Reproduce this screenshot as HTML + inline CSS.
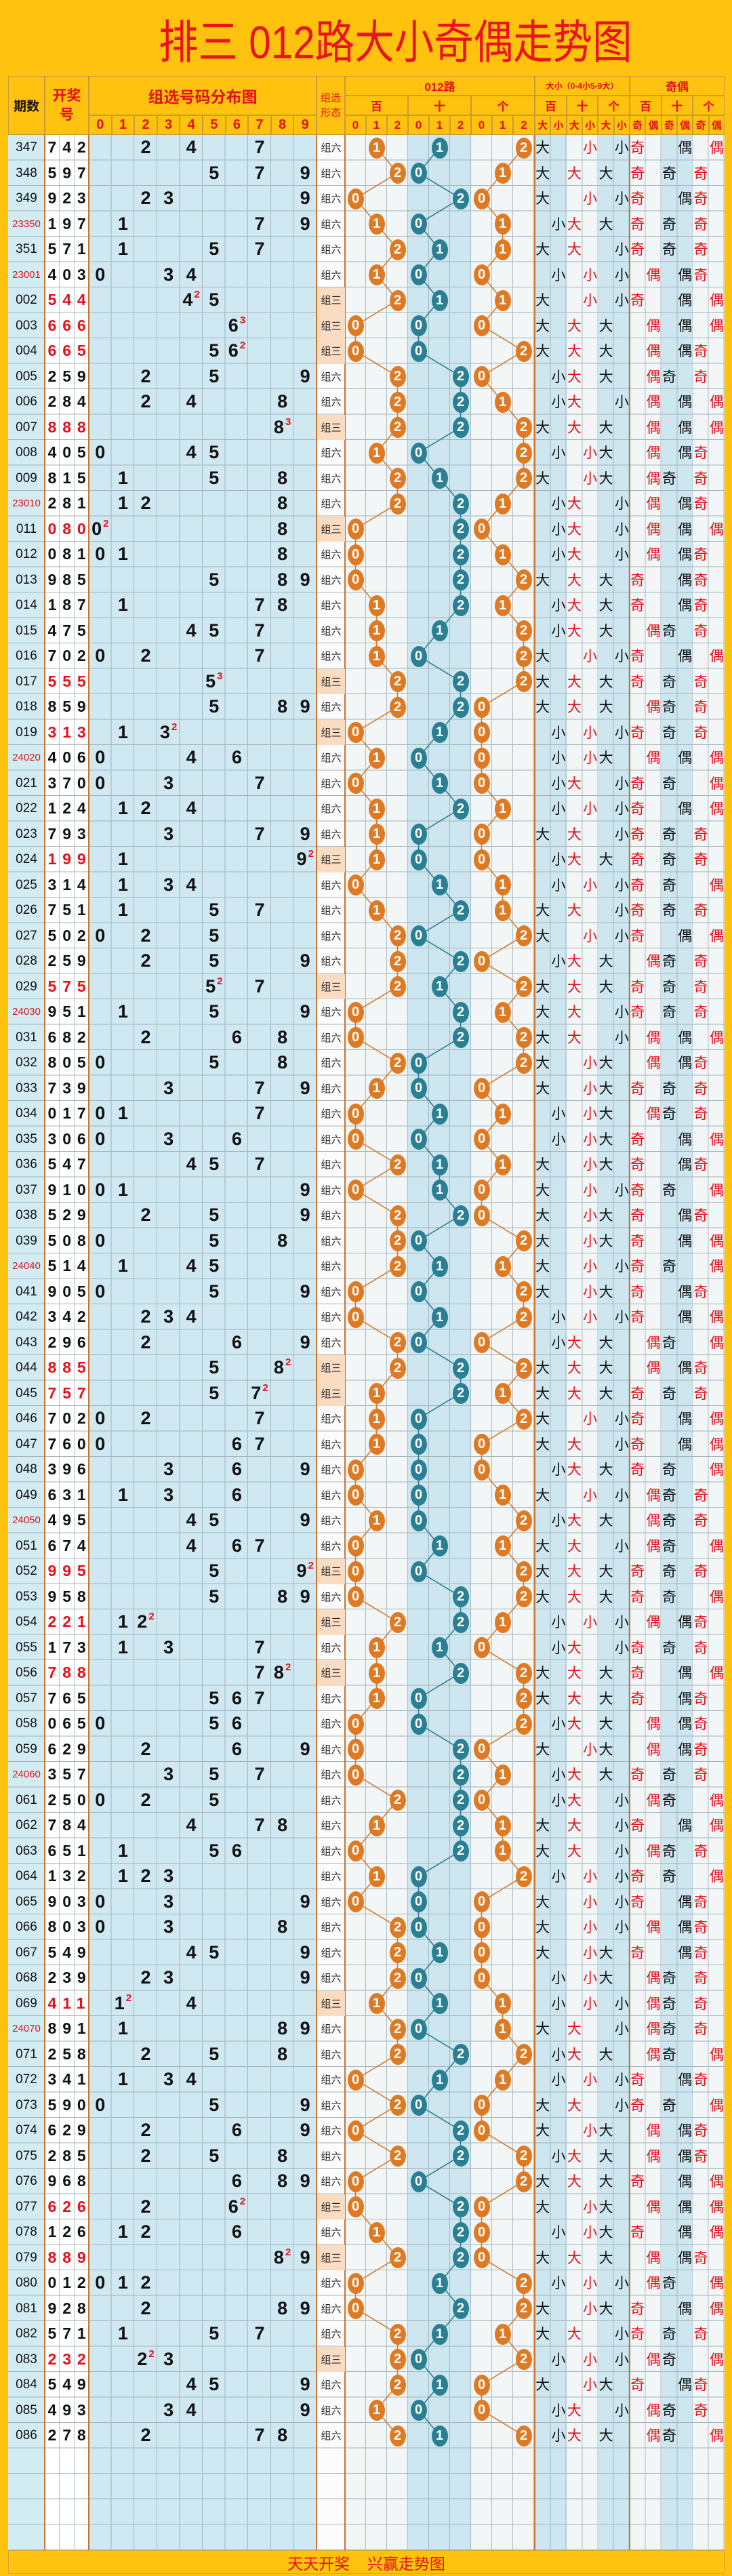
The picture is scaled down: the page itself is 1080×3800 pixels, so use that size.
<!DOCTYPE html>
<html><head><meta charset="utf-8">
<style>
*{margin:0;padding:0;box-sizing:border-box}
body{width:1080px;height:3800px;background:#FFC20E;position:relative;overflow:hidden;font-family:"Liberation Sans","Noto Sans CJK SC",sans-serif}
.t{position:absolute;left:234px;top:18px;width:850px;height:90px;line-height:90px;font-size:68px;color:#e8141a;white-space:nowrap;transform:scaleX(.86);transform-origin:0 0;font-family:"Liberation Sans","Noto Sans CJK SC",sans-serif}
.h{position:absolute;border:1px solid #c99a3a;text-align:center;color:#e4121a;font-weight:bold;display:flex;align-items:center;justify-content:center;font-family:"Liberation Sans","Noto Sans CJK SC",sans-serif}
.bg{position:absolute;top:199px;height:3563px}
.sep{position:absolute;top:112px;height:3650px;width:2px;background:#c9742f}
#rows{position:absolute;left:0;top:199px;width:1080px;z-index:3}
.r{position:relative;height:37.5px}
.r>*{position:absolute;top:0;height:37.5px;line-height:37.5px;text-align:center;font-style:normal;text-decoration:none;white-space:nowrap}
.r i{left:12px;width:54px;font-size:19px;color:#111}
.r i.q{font-size:15px;color:#d8141c}
.r i.n{left:70.5px;width:64px;text-align:left;font-size:23px;font-weight:bold;letter-spacing:8.9px;color:#111}
.r i.w{color:#e4101a}
.r b{width:33.6px;font-size:27px;font-weight:bold;color:#111}
.r b sup{font-size:15px;color:#e4101a;vertical-align:top;line-height:22px;margin-left:2px}
.d0{left:131px}.d1{left:164.6px}.d2{left:198.2px}.d3{left:231.8px}.d4{left:265.4px}.d5{left:299px}.d6{left:332.6px}.d7{left:366.2px}.d8{left:399.8px}.d9{left:433.4px}
.r s{left:468px;width:41px;font-size:15px;color:#222;font-family:"Noto Sans CJK SC",sans-serif}
.r s.z{background:#f9dcc2}
.r u{top:3.5px;width:24px;height:31px;line-height:31px;border-radius:50%;color:#fff;font-size:20px;font-weight:bold;background:#df7a22}
.a0{left:512.5px}.a1{left:543.5px}.a2{left:574.5px}
.r u.t0,.r u.t1,.r u.t2{background:#2a7f93}
.t0{left:605.5px}.t1{left:636.5px}.t2{left:667.5px}
.c0{left:698.5px}.c1{left:729.5px}.c2{left:760.5px}
.r em{width:23.3px;font-size:21px;color:#111;font-family:"Noto Sans CJK SC",sans-serif}
.x0{left:789px}.x1{left:812.3px}.x2{left:835.7px;color:#e4101a!important}.x3{left:859px;color:#e4101a!important}.x4{left:882.3px}.x5{left:905.7px}
.y0{left:929px;color:#e4101a!important}.y1{left:952.3px;color:#e4101a!important}.y2{left:975.7px}.y3{left:999px}.y4{left:1022.3px;color:#e4101a!important}.y5{left:1045.7px;color:#e4101a!important}
.f{position:absolute;left:12px;top:3762px;width:1057px;height:35px;border:1px solid #d9a52a;text-align:center;line-height:35px;font-size:23px;color:#e4121a;font-family:"Noto Sans CJK SC",sans-serif;word-spacing:0}
</style></head><body>
<div class="t">排三 012路大小奇偶走势图</div>

<!-- body backgrounds -->
<div class="bg" style="left:12px;width:54px;background:#d3ecf4"></div>
<div class="bg" style="left:66px;width:65px;background:repeating-linear-gradient(90deg,#fff 0 21px,#b8c4c8 21px 22px)"></div>
<div class="bg" style="left:131px;width:336px;background:repeating-linear-gradient(90deg,#cfe8f1 0 32.6px,#9fb5bd 32.6px 33.6px)"></div>
<div class="bg" style="left:467px;width:42px;background:#fcfcfc"></div>
<div class="bg" style="left:509px;width:93px;background:repeating-linear-gradient(90deg,#f2f6f7 0 30px,#aebcc1 30px 31px)"></div>
<div class="bg" style="left:602px;width:93px;background:repeating-linear-gradient(90deg,#cde6ef 0 30px,#9fb5bd 30px 31px)"></div>
<div class="bg" style="left:695px;width:94px;background:repeating-linear-gradient(90deg,#f2f6f7 0 30px,#aebcc1 30px 31px)"></div>
<div class="bg" style="left:789px;width:47px;background:repeating-linear-gradient(90deg,#cde6ef 0 22.3px,#9fb5bd 22.3px 23.3px)"></div>
<div class="bg" style="left:836px;width:46px;background:repeating-linear-gradient(90deg,#f2f6f7 0 22.3px,#aebcc1 22.3px 23.3px)"></div>
<div class="bg" style="left:882px;width:47px;background:repeating-linear-gradient(90deg,#cde6ef 0 22.3px,#9fb5bd 22.3px 23.3px)"></div>
<div class="bg" style="left:929px;width:47px;background:repeating-linear-gradient(90deg,#f2f6f7 0 22.3px,#aebcc1 22.3px 23.3px)"></div>
<div class="bg" style="left:976px;width:46px;background:repeating-linear-gradient(90deg,#cde6ef 0 22.3px,#9fb5bd 22.3px 23.3px)"></div>
<div class="bg" style="left:1022px;width:47px;background:repeating-linear-gradient(90deg,#f2f6f7 0 22.3px,#aebcc1 22.3px 23.3px)"></div>
<div class="bg" style="left:12px;width:1057px;background:repeating-linear-gradient(180deg,transparent 0 36.3px,#a3b3b8 36.3px 37.5px)"></div>
<div class="sep" style="left:65px"></div><div class="sep" style="left:130px"></div><div class="sep" style="left:466px"></div><div class="sep" style="left:508px"></div><div class="sep" style="left:788px"></div><div class="sep" style="left:928px"></div>

<!-- header -->
<div class="h" style="left:12px;top:112px;width:54px;height:87px;color:#111;font-size:19px">期数</div>
<div class="h" style="left:66px;top:112px;width:65px;height:87px;font-size:21px;line-height:28px">开奖<br>号</div>
<div class="h" style="left:131px;top:112px;width:336px;height:58px;font-size:23px">组选号码分布图</div>
<div class="h" style="left:131px;top:170px;width:33.6px;height:29px;font-size:20px">0</div>
<div class="h" style="left:164.6px;top:170px;width:33.6px;height:29px;font-size:20px">1</div>
<div class="h" style="left:198.2px;top:170px;width:33.6px;height:29px;font-size:20px">2</div>
<div class="h" style="left:231.8px;top:170px;width:33.6px;height:29px;font-size:20px">3</div>
<div class="h" style="left:265.4px;top:170px;width:33.6px;height:29px;font-size:20px">4</div>
<div class="h" style="left:299px;top:170px;width:33.6px;height:29px;font-size:20px">5</div>
<div class="h" style="left:332.6px;top:170px;width:33.6px;height:29px;font-size:20px">6</div>
<div class="h" style="left:366.2px;top:170px;width:33.6px;height:29px;font-size:20px">7</div>
<div class="h" style="left:399.8px;top:170px;width:33.6px;height:29px;font-size:20px">8</div>
<div class="h" style="left:433.4px;top:170px;width:33.6px;height:29px;font-size:20px">9</div>
<div class="h" style="left:467px;top:112px;width:42px;height:87px;font-size:15px;font-weight:normal;line-height:22px">组选<br>形态</div>
<div class="h" style="left:509px;top:112px;width:280px;height:29px;font-size:17px">012路</div>
<div class="h" style="left:509px;top:141px;width:93px;height:29px;font-size:17px">百</div>
<div class="h" style="left:602px;top:141px;width:93px;height:29px;font-size:17px">十</div>
<div class="h" style="left:695px;top:141px;width:94px;height:29px;font-size:17px">个</div>
<div class="h" style="left:509px;top:170px;width:31px;height:29px;font-size:17px">0</div>
<div class="h" style="left:540px;top:170px;width:31px;height:29px;font-size:17px">1</div>
<div class="h" style="left:571px;top:170px;width:31px;height:29px;font-size:17px">2</div>
<div class="h" style="left:602px;top:170px;width:31px;height:29px;font-size:17px">0</div>
<div class="h" style="left:633px;top:170px;width:31px;height:29px;font-size:17px">1</div>
<div class="h" style="left:664px;top:170px;width:31px;height:29px;font-size:17px">2</div>
<div class="h" style="left:695px;top:170px;width:31px;height:29px;font-size:17px">0</div>
<div class="h" style="left:726px;top:170px;width:31px;height:29px;font-size:17px">1</div>
<div class="h" style="left:757px;top:170px;width:32px;height:29px;font-size:17px">2</div>
<div class="h" style="left:789px;top:112px;width:140px;height:29px;font-size:12px">大小（0-4小5-9大）</div>
<div class="h" style="left:789px;top:141px;width:47px;height:29px;font-size:17px">百</div>
<div class="h" style="left:836px;top:141px;width:46px;height:29px;font-size:17px">十</div>
<div class="h" style="left:882px;top:141px;width:47px;height:29px;font-size:17px">个</div>
<div class="h" style="left:929px;top:112px;width:140px;height:29px;font-size:17px">奇偶</div>
<div class="h" style="left:929px;top:141px;width:47px;height:29px;font-size:17px">百</div>
<div class="h" style="left:976px;top:141px;width:46px;height:29px;font-size:17px">十</div>
<div class="h" style="left:1022px;top:141px;width:47px;height:29px;font-size:17px">个</div>
<div class="h" style="left:789px;top:170px;width:23.3px;height:29px;font-size:15px">大</div>
<div class="h" style="left:812.3px;top:170px;width:23.3px;height:29px;font-size:15px">小</div>
<div class="h" style="left:835.7px;top:170px;width:23.3px;height:29px;font-size:15px">大</div>
<div class="h" style="left:859px;top:170px;width:23.3px;height:29px;font-size:15px">小</div>
<div class="h" style="left:882.3px;top:170px;width:23.3px;height:29px;font-size:15px">大</div>
<div class="h" style="left:905.7px;top:170px;width:23.3px;height:29px;font-size:15px">小</div>
<div class="h" style="left:929px;top:170px;width:23.3px;height:29px;font-size:15px">奇</div>
<div class="h" style="left:952.3px;top:170px;width:23.3px;height:29px;font-size:15px">偶</div>
<div class="h" style="left:975.7px;top:170px;width:23.3px;height:29px;font-size:15px">奇</div>
<div class="h" style="left:999px;top:170px;width:23.3px;height:29px;font-size:15px">偶</div>
<div class="h" style="left:1022.3px;top:170px;width:23.3px;height:29px;font-size:15px">奇</div>
<div class="h" style="left:1045.7px;top:170px;width:23.3px;height:29px;font-size:15px">偶</div>

<svg id="ln" width="1080" height="3800" style="position:absolute;left:0;top:0;z-index:2"></svg>

<div id="rows">
<div class=r><i>347</i><i class=n>742</i><b class=d2>2</b><b class=d4>4</b><b class=d7>7</b><s>组六</s><u class=a1>1</u><u class=t1>1</u><u class=c2>2</u><em class=x0>大</em><em class=x3>小</em><em class=x5>小</em><em class=y0>奇</em><em class=y3>偶</em><em class=y5>偶</em></div>
<div class=r><i>348</i><i class=n>597</i><b class=d5>5</b><b class=d7>7</b><b class=d9>9</b><s>组六</s><u class=a2>2</u><u class=t0>0</u><u class=c1>1</u><em class=x0>大</em><em class=x2>大</em><em class=x4>大</em><em class=y0>奇</em><em class=y2>奇</em><em class=y4>奇</em></div>
<div class=r><i>349</i><i class=n>923</i><b class=d2>2</b><b class=d3>3</b><b class=d9>9</b><s>组六</s><u class=a0>0</u><u class=t2>2</u><u class=c0>0</u><em class=x0>大</em><em class=x3>小</em><em class=x5>小</em><em class=y0>奇</em><em class=y3>偶</em><em class=y4>奇</em></div>
<div class=r><i class=q>23350</i><i class=n>197</i><b class=d1>1</b><b class=d7>7</b><b class=d9>9</b><s>组六</s><u class=a1>1</u><u class=t0>0</u><u class=c1>1</u><em class=x1>小</em><em class=x2>大</em><em class=x4>大</em><em class=y0>奇</em><em class=y2>奇</em><em class=y4>奇</em></div>
<div class=r><i>351</i><i class=n>571</i><b class=d1>1</b><b class=d5>5</b><b class=d7>7</b><s>组六</s><u class=a2>2</u><u class=t1>1</u><u class=c1>1</u><em class=x0>大</em><em class=x2>大</em><em class=x5>小</em><em class=y0>奇</em><em class=y2>奇</em><em class=y4>奇</em></div>
<div class=r><i class=q>23001</i><i class=n>403</i><b class=d0>0</b><b class=d3>3</b><b class=d4>4</b><s>组六</s><u class=a1>1</u><u class=t0>0</u><u class=c0>0</u><em class=x1>小</em><em class=x3>小</em><em class=x5>小</em><em class=y1>偶</em><em class=y3>偶</em><em class=y4>奇</em></div>
<div class=r><i>002</i><i class="n w">544</i><b class=d4>4<sup>2</sup></b><b class=d5>5</b><s class=z>组三</s><u class=a2>2</u><u class=t1>1</u><u class=c1>1</u><em class=x0>大</em><em class=x3>小</em><em class=x5>小</em><em class=y0>奇</em><em class=y3>偶</em><em class=y5>偶</em></div>
<div class=r><i>003</i><i class="n w">666</i><b class=d6>6<sup>3</sup></b><s class=z>组三</s><u class=a0>0</u><u class=t0>0</u><u class=c0>0</u><em class=x0>大</em><em class=x2>大</em><em class=x4>大</em><em class=y1>偶</em><em class=y3>偶</em><em class=y5>偶</em></div>
<div class=r><i>004</i><i class="n w">665</i><b class=d5>5</b><b class=d6>6<sup>2</sup></b><s class=z>组三</s><u class=a0>0</u><u class=t0>0</u><u class=c2>2</u><em class=x0>大</em><em class=x2>大</em><em class=x4>大</em><em class=y1>偶</em><em class=y3>偶</em><em class=y4>奇</em></div>
<div class=r><i>005</i><i class=n>259</i><b class=d2>2</b><b class=d5>5</b><b class=d9>9</b><s>组六</s><u class=a2>2</u><u class=t2>2</u><u class=c0>0</u><em class=x1>小</em><em class=x2>大</em><em class=x4>大</em><em class=y1>偶</em><em class=y2>奇</em><em class=y4>奇</em></div>
<div class=r><i>006</i><i class=n>284</i><b class=d2>2</b><b class=d4>4</b><b class=d8>8</b><s>组六</s><u class=a2>2</u><u class=t2>2</u><u class=c1>1</u><em class=x1>小</em><em class=x2>大</em><em class=x5>小</em><em class=y1>偶</em><em class=y3>偶</em><em class=y5>偶</em></div>
<div class=r><i>007</i><i class="n w">888</i><b class=d8>8<sup>3</sup></b><s class=z>组三</s><u class=a2>2</u><u class=t2>2</u><u class=c2>2</u><em class=x0>大</em><em class=x2>大</em><em class=x4>大</em><em class=y1>偶</em><em class=y3>偶</em><em class=y5>偶</em></div>
<div class=r><i>008</i><i class=n>405</i><b class=d0>0</b><b class=d4>4</b><b class=d5>5</b><s>组六</s><u class=a1>1</u><u class=t0>0</u><u class=c2>2</u><em class=x1>小</em><em class=x3>小</em><em class=x4>大</em><em class=y1>偶</em><em class=y3>偶</em><em class=y4>奇</em></div>
<div class=r><i>009</i><i class=n>815</i><b class=d1>1</b><b class=d5>5</b><b class=d8>8</b><s>组六</s><u class=a2>2</u><u class=t1>1</u><u class=c2>2</u><em class=x0>大</em><em class=x3>小</em><em class=x4>大</em><em class=y1>偶</em><em class=y2>奇</em><em class=y4>奇</em></div>
<div class=r><i class=q>23010</i><i class=n>281</i><b class=d1>1</b><b class=d2>2</b><b class=d8>8</b><s>组六</s><u class=a2>2</u><u class=t2>2</u><u class=c1>1</u><em class=x1>小</em><em class=x2>大</em><em class=x5>小</em><em class=y1>偶</em><em class=y3>偶</em><em class=y4>奇</em></div>
<div class=r><i>011</i><i class="n w">080</i><b class=d0>0<sup>2</sup></b><b class=d8>8</b><s class=z>组三</s><u class=a0>0</u><u class=t2>2</u><u class=c0>0</u><em class=x1>小</em><em class=x2>大</em><em class=x5>小</em><em class=y1>偶</em><em class=y3>偶</em><em class=y5>偶</em></div>
<div class=r><i>012</i><i class=n>081</i><b class=d0>0</b><b class=d1>1</b><b class=d8>8</b><s>组六</s><u class=a0>0</u><u class=t2>2</u><u class=c1>1</u><em class=x1>小</em><em class=x2>大</em><em class=x5>小</em><em class=y1>偶</em><em class=y3>偶</em><em class=y4>奇</em></div>
<div class=r><i>013</i><i class=n>985</i><b class=d5>5</b><b class=d8>8</b><b class=d9>9</b><s>组六</s><u class=a0>0</u><u class=t2>2</u><u class=c2>2</u><em class=x0>大</em><em class=x2>大</em><em class=x4>大</em><em class=y0>奇</em><em class=y3>偶</em><em class=y4>奇</em></div>
<div class=r><i>014</i><i class=n>187</i><b class=d1>1</b><b class=d7>7</b><b class=d8>8</b><s>组六</s><u class=a1>1</u><u class=t2>2</u><u class=c1>1</u><em class=x1>小</em><em class=x2>大</em><em class=x4>大</em><em class=y0>奇</em><em class=y3>偶</em><em class=y4>奇</em></div>
<div class=r><i>015</i><i class=n>475</i><b class=d4>4</b><b class=d5>5</b><b class=d7>7</b><s>组六</s><u class=a1>1</u><u class=t1>1</u><u class=c2>2</u><em class=x1>小</em><em class=x2>大</em><em class=x4>大</em><em class=y1>偶</em><em class=y2>奇</em><em class=y4>奇</em></div>
<div class=r><i>016</i><i class=n>702</i><b class=d0>0</b><b class=d2>2</b><b class=d7>7</b><s>组六</s><u class=a1>1</u><u class=t0>0</u><u class=c2>2</u><em class=x0>大</em><em class=x3>小</em><em class=x5>小</em><em class=y0>奇</em><em class=y3>偶</em><em class=y5>偶</em></div>
<div class=r><i>017</i><i class="n w">555</i><b class=d5>5<sup>3</sup></b><s class=z>组三</s><u class=a2>2</u><u class=t2>2</u><u class=c2>2</u><em class=x0>大</em><em class=x2>大</em><em class=x4>大</em><em class=y0>奇</em><em class=y2>奇</em><em class=y4>奇</em></div>
<div class=r><i>018</i><i class=n>859</i><b class=d5>5</b><b class=d8>8</b><b class=d9>9</b><s>组六</s><u class=a2>2</u><u class=t2>2</u><u class=c0>0</u><em class=x0>大</em><em class=x2>大</em><em class=x4>大</em><em class=y1>偶</em><em class=y2>奇</em><em class=y4>奇</em></div>
<div class=r><i>019</i><i class="n w">313</i><b class=d1>1</b><b class=d3>3<sup>2</sup></b><s class=z>组三</s><u class=a0>0</u><u class=t1>1</u><u class=c0>0</u><em class=x1>小</em><em class=x3>小</em><em class=x5>小</em><em class=y0>奇</em><em class=y2>奇</em><em class=y4>奇</em></div>
<div class=r><i class=q>24020</i><i class=n>406</i><b class=d0>0</b><b class=d4>4</b><b class=d6>6</b><s>组六</s><u class=a1>1</u><u class=t0>0</u><u class=c0>0</u><em class=x1>小</em><em class=x3>小</em><em class=x4>大</em><em class=y1>偶</em><em class=y3>偶</em><em class=y5>偶</em></div>
<div class=r><i>021</i><i class=n>370</i><b class=d0>0</b><b class=d3>3</b><b class=d7>7</b><s>组六</s><u class=a0>0</u><u class=t1>1</u><u class=c0>0</u><em class=x1>小</em><em class=x2>大</em><em class=x5>小</em><em class=y0>奇</em><em class=y2>奇</em><em class=y5>偶</em></div>
<div class=r><i>022</i><i class=n>124</i><b class=d1>1</b><b class=d2>2</b><b class=d4>4</b><s>组六</s><u class=a1>1</u><u class=t2>2</u><u class=c1>1</u><em class=x1>小</em><em class=x3>小</em><em class=x5>小</em><em class=y0>奇</em><em class=y3>偶</em><em class=y5>偶</em></div>
<div class=r><i>023</i><i class=n>793</i><b class=d3>3</b><b class=d7>7</b><b class=d9>9</b><s>组六</s><u class=a1>1</u><u class=t0>0</u><u class=c0>0</u><em class=x0>大</em><em class=x2>大</em><em class=x5>小</em><em class=y0>奇</em><em class=y2>奇</em><em class=y4>奇</em></div>
<div class=r><i>024</i><i class="n w">199</i><b class=d1>1</b><b class=d9>9<sup>2</sup></b><s class=z>组三</s><u class=a1>1</u><u class=t0>0</u><u class=c0>0</u><em class=x1>小</em><em class=x2>大</em><em class=x4>大</em><em class=y0>奇</em><em class=y2>奇</em><em class=y4>奇</em></div>
<div class=r><i>025</i><i class=n>314</i><b class=d1>1</b><b class=d3>3</b><b class=d4>4</b><s>组六</s><u class=a0>0</u><u class=t1>1</u><u class=c1>1</u><em class=x1>小</em><em class=x3>小</em><em class=x5>小</em><em class=y0>奇</em><em class=y2>奇</em><em class=y5>偶</em></div>
<div class=r><i>026</i><i class=n>751</i><b class=d1>1</b><b class=d5>5</b><b class=d7>7</b><s>组六</s><u class=a1>1</u><u class=t2>2</u><u class=c1>1</u><em class=x0>大</em><em class=x2>大</em><em class=x5>小</em><em class=y0>奇</em><em class=y2>奇</em><em class=y4>奇</em></div>
<div class=r><i>027</i><i class=n>502</i><b class=d0>0</b><b class=d2>2</b><b class=d5>5</b><s>组六</s><u class=a2>2</u><u class=t0>0</u><u class=c2>2</u><em class=x0>大</em><em class=x3>小</em><em class=x5>小</em><em class=y0>奇</em><em class=y3>偶</em><em class=y5>偶</em></div>
<div class=r><i>028</i><i class=n>259</i><b class=d2>2</b><b class=d5>5</b><b class=d9>9</b><s>组六</s><u class=a2>2</u><u class=t2>2</u><u class=c0>0</u><em class=x1>小</em><em class=x2>大</em><em class=x4>大</em><em class=y1>偶</em><em class=y2>奇</em><em class=y4>奇</em></div>
<div class=r><i>029</i><i class="n w">575</i><b class=d5>5<sup>2</sup></b><b class=d7>7</b><s class=z>组三</s><u class=a2>2</u><u class=t1>1</u><u class=c2>2</u><em class=x0>大</em><em class=x2>大</em><em class=x4>大</em><em class=y0>奇</em><em class=y2>奇</em><em class=y4>奇</em></div>
<div class=r><i class=q>24030</i><i class=n>951</i><b class=d1>1</b><b class=d5>5</b><b class=d9>9</b><s>组六</s><u class=a0>0</u><u class=t2>2</u><u class=c1>1</u><em class=x0>大</em><em class=x2>大</em><em class=x5>小</em><em class=y0>奇</em><em class=y2>奇</em><em class=y4>奇</em></div>
<div class=r><i>031</i><i class=n>682</i><b class=d2>2</b><b class=d6>6</b><b class=d8>8</b><s>组六</s><u class=a0>0</u><u class=t2>2</u><u class=c2>2</u><em class=x0>大</em><em class=x2>大</em><em class=x5>小</em><em class=y1>偶</em><em class=y3>偶</em><em class=y5>偶</em></div>
<div class=r><i>032</i><i class=n>805</i><b class=d0>0</b><b class=d5>5</b><b class=d8>8</b><s>组六</s><u class=a2>2</u><u class=t0>0</u><u class=c2>2</u><em class=x0>大</em><em class=x3>小</em><em class=x4>大</em><em class=y1>偶</em><em class=y3>偶</em><em class=y4>奇</em></div>
<div class=r><i>033</i><i class=n>739</i><b class=d3>3</b><b class=d7>7</b><b class=d9>9</b><s>组六</s><u class=a1>1</u><u class=t0>0</u><u class=c0>0</u><em class=x0>大</em><em class=x3>小</em><em class=x4>大</em><em class=y0>奇</em><em class=y2>奇</em><em class=y4>奇</em></div>
<div class=r><i>034</i><i class=n>017</i><b class=d0>0</b><b class=d1>1</b><b class=d7>7</b><s>组六</s><u class=a0>0</u><u class=t1>1</u><u class=c1>1</u><em class=x1>小</em><em class=x3>小</em><em class=x4>大</em><em class=y1>偶</em><em class=y2>奇</em><em class=y4>奇</em></div>
<div class=r><i>035</i><i class=n>306</i><b class=d0>0</b><b class=d3>3</b><b class=d6>6</b><s>组六</s><u class=a0>0</u><u class=t0>0</u><u class=c0>0</u><em class=x1>小</em><em class=x3>小</em><em class=x4>大</em><em class=y0>奇</em><em class=y3>偶</em><em class=y5>偶</em></div>
<div class=r><i>036</i><i class=n>547</i><b class=d4>4</b><b class=d5>5</b><b class=d7>7</b><s>组六</s><u class=a2>2</u><u class=t1>1</u><u class=c1>1</u><em class=x0>大</em><em class=x3>小</em><em class=x4>大</em><em class=y0>奇</em><em class=y3>偶</em><em class=y4>奇</em></div>
<div class=r><i>037</i><i class=n>910</i><b class=d0>0</b><b class=d1>1</b><b class=d9>9</b><s>组六</s><u class=a0>0</u><u class=t1>1</u><u class=c0>0</u><em class=x0>大</em><em class=x3>小</em><em class=x5>小</em><em class=y0>奇</em><em class=y2>奇</em><em class=y5>偶</em></div>
<div class=r><i>038</i><i class=n>529</i><b class=d2>2</b><b class=d5>5</b><b class=d9>9</b><s>组六</s><u class=a2>2</u><u class=t2>2</u><u class=c0>0</u><em class=x0>大</em><em class=x3>小</em><em class=x4>大</em><em class=y0>奇</em><em class=y3>偶</em><em class=y4>奇</em></div>
<div class=r><i>039</i><i class=n>508</i><b class=d0>0</b><b class=d5>5</b><b class=d8>8</b><s>组六</s><u class=a2>2</u><u class=t0>0</u><u class=c2>2</u><em class=x0>大</em><em class=x3>小</em><em class=x4>大</em><em class=y0>奇</em><em class=y3>偶</em><em class=y5>偶</em></div>
<div class=r><i class=q>24040</i><i class=n>514</i><b class=d1>1</b><b class=d4>4</b><b class=d5>5</b><s>组六</s><u class=a2>2</u><u class=t1>1</u><u class=c1>1</u><em class=x0>大</em><em class=x3>小</em><em class=x5>小</em><em class=y0>奇</em><em class=y2>奇</em><em class=y5>偶</em></div>
<div class=r><i>041</i><i class=n>905</i><b class=d0>0</b><b class=d5>5</b><b class=d9>9</b><s>组六</s><u class=a0>0</u><u class=t0>0</u><u class=c2>2</u><em class=x0>大</em><em class=x3>小</em><em class=x4>大</em><em class=y0>奇</em><em class=y3>偶</em><em class=y4>奇</em></div>
<div class=r><i>042</i><i class=n>342</i><b class=d2>2</b><b class=d3>3</b><b class=d4>4</b><s>组六</s><u class=a0>0</u><u class=t1>1</u><u class=c2>2</u><em class=x1>小</em><em class=x3>小</em><em class=x5>小</em><em class=y0>奇</em><em class=y3>偶</em><em class=y5>偶</em></div>
<div class=r><i>043</i><i class=n>296</i><b class=d2>2</b><b class=d6>6</b><b class=d9>9</b><s>组六</s><u class=a2>2</u><u class=t0>0</u><u class=c0>0</u><em class=x1>小</em><em class=x2>大</em><em class=x4>大</em><em class=y1>偶</em><em class=y2>奇</em><em class=y5>偶</em></div>
<div class=r><i>044</i><i class="n w">885</i><b class=d5>5</b><b class=d8>8<sup>2</sup></b><s class=z>组三</s><u class=a2>2</u><u class=t2>2</u><u class=c2>2</u><em class=x0>大</em><em class=x2>大</em><em class=x4>大</em><em class=y1>偶</em><em class=y3>偶</em><em class=y4>奇</em></div>
<div class=r><i>045</i><i class="n w">757</i><b class=d5>5</b><b class=d7>7<sup>2</sup></b><s class=z>组三</s><u class=a1>1</u><u class=t2>2</u><u class=c1>1</u><em class=x0>大</em><em class=x2>大</em><em class=x4>大</em><em class=y0>奇</em><em class=y2>奇</em><em class=y4>奇</em></div>
<div class=r><i>046</i><i class=n>702</i><b class=d0>0</b><b class=d2>2</b><b class=d7>7</b><s>组六</s><u class=a1>1</u><u class=t0>0</u><u class=c2>2</u><em class=x0>大</em><em class=x3>小</em><em class=x5>小</em><em class=y0>奇</em><em class=y3>偶</em><em class=y5>偶</em></div>
<div class=r><i>047</i><i class=n>760</i><b class=d0>0</b><b class=d6>6</b><b class=d7>7</b><s>组六</s><u class=a1>1</u><u class=t0>0</u><u class=c0>0</u><em class=x0>大</em><em class=x2>大</em><em class=x5>小</em><em class=y0>奇</em><em class=y3>偶</em><em class=y5>偶</em></div>
<div class=r><i>048</i><i class=n>396</i><b class=d3>3</b><b class=d6>6</b><b class=d9>9</b><s>组六</s><u class=a0>0</u><u class=t0>0</u><u class=c0>0</u><em class=x1>小</em><em class=x2>大</em><em class=x4>大</em><em class=y0>奇</em><em class=y2>奇</em><em class=y5>偶</em></div>
<div class=r><i>049</i><i class=n>631</i><b class=d1>1</b><b class=d3>3</b><b class=d6>6</b><s>组六</s><u class=a0>0</u><u class=t0>0</u><u class=c1>1</u><em class=x0>大</em><em class=x3>小</em><em class=x5>小</em><em class=y1>偶</em><em class=y2>奇</em><em class=y4>奇</em></div>
<div class=r><i class=q>24050</i><i class=n>495</i><b class=d4>4</b><b class=d5>5</b><b class=d9>9</b><s>组六</s><u class=a1>1</u><u class=t0>0</u><u class=c2>2</u><em class=x1>小</em><em class=x2>大</em><em class=x4>大</em><em class=y1>偶</em><em class=y2>奇</em><em class=y4>奇</em></div>
<div class=r><i>051</i><i class=n>674</i><b class=d4>4</b><b class=d6>6</b><b class=d7>7</b><s>组六</s><u class=a0>0</u><u class=t1>1</u><u class=c1>1</u><em class=x0>大</em><em class=x2>大</em><em class=x5>小</em><em class=y1>偶</em><em class=y2>奇</em><em class=y5>偶</em></div>
<div class=r><i>052</i><i class="n w">995</i><b class=d5>5</b><b class=d9>9<sup>2</sup></b><s class=z>组三</s><u class=a0>0</u><u class=t0>0</u><u class=c2>2</u><em class=x0>大</em><em class=x2>大</em><em class=x4>大</em><em class=y0>奇</em><em class=y2>奇</em><em class=y4>奇</em></div>
<div class=r><i>053</i><i class=n>958</i><b class=d5>5</b><b class=d8>8</b><b class=d9>9</b><s>组六</s><u class=a0>0</u><u class=t2>2</u><u class=c2>2</u><em class=x0>大</em><em class=x2>大</em><em class=x4>大</em><em class=y0>奇</em><em class=y2>奇</em><em class=y5>偶</em></div>
<div class=r><i>054</i><i class="n w">221</i><b class=d1>1</b><b class=d2>2<sup>2</sup></b><s class=z>组三</s><u class=a2>2</u><u class=t2>2</u><u class=c1>1</u><em class=x1>小</em><em class=x3>小</em><em class=x5>小</em><em class=y1>偶</em><em class=y3>偶</em><em class=y4>奇</em></div>
<div class=r><i>055</i><i class=n>173</i><b class=d1>1</b><b class=d3>3</b><b class=d7>7</b><s>组六</s><u class=a1>1</u><u class=t1>1</u><u class=c0>0</u><em class=x1>小</em><em class=x2>大</em><em class=x5>小</em><em class=y0>奇</em><em class=y2>奇</em><em class=y4>奇</em></div>
<div class=r><i>056</i><i class="n w">788</i><b class=d7>7</b><b class=d8>8<sup>2</sup></b><s class=z>组三</s><u class=a1>1</u><u class=t2>2</u><u class=c2>2</u><em class=x0>大</em><em class=x2>大</em><em class=x4>大</em><em class=y0>奇</em><em class=y3>偶</em><em class=y5>偶</em></div>
<div class=r><i>057</i><i class=n>765</i><b class=d5>5</b><b class=d6>6</b><b class=d7>7</b><s>组六</s><u class=a1>1</u><u class=t0>0</u><u class=c2>2</u><em class=x0>大</em><em class=x2>大</em><em class=x4>大</em><em class=y0>奇</em><em class=y3>偶</em><em class=y4>奇</em></div>
<div class=r><i>058</i><i class=n>065</i><b class=d0>0</b><b class=d5>5</b><b class=d6>6</b><s>组六</s><u class=a0>0</u><u class=t0>0</u><u class=c2>2</u><em class=x1>小</em><em class=x2>大</em><em class=x4>大</em><em class=y1>偶</em><em class=y3>偶</em><em class=y4>奇</em></div>
<div class=r><i>059</i><i class=n>629</i><b class=d2>2</b><b class=d6>6</b><b class=d9>9</b><s>组六</s><u class=a0>0</u><u class=t2>2</u><u class=c0>0</u><em class=x0>大</em><em class=x3>小</em><em class=x4>大</em><em class=y1>偶</em><em class=y3>偶</em><em class=y4>奇</em></div>
<div class=r><i class=q>24060</i><i class=n>357</i><b class=d3>3</b><b class=d5>5</b><b class=d7>7</b><s>组六</s><u class=a0>0</u><u class=t2>2</u><u class=c1>1</u><em class=x1>小</em><em class=x2>大</em><em class=x4>大</em><em class=y0>奇</em><em class=y2>奇</em><em class=y4>奇</em></div>
<div class=r><i>061</i><i class=n>250</i><b class=d0>0</b><b class=d2>2</b><b class=d5>5</b><s>组六</s><u class=a2>2</u><u class=t2>2</u><u class=c0>0</u><em class=x1>小</em><em class=x2>大</em><em class=x5>小</em><em class=y1>偶</em><em class=y2>奇</em><em class=y5>偶</em></div>
<div class=r><i>062</i><i class=n>784</i><b class=d4>4</b><b class=d7>7</b><b class=d8>8</b><s>组六</s><u class=a1>1</u><u class=t2>2</u><u class=c1>1</u><em class=x0>大</em><em class=x2>大</em><em class=x5>小</em><em class=y0>奇</em><em class=y3>偶</em><em class=y5>偶</em></div>
<div class=r><i>063</i><i class=n>651</i><b class=d1>1</b><b class=d5>5</b><b class=d6>6</b><s>组六</s><u class=a0>0</u><u class=t2>2</u><u class=c1>1</u><em class=x0>大</em><em class=x2>大</em><em class=x5>小</em><em class=y1>偶</em><em class=y2>奇</em><em class=y4>奇</em></div>
<div class=r><i>064</i><i class=n>132</i><b class=d1>1</b><b class=d2>2</b><b class=d3>3</b><s>组六</s><u class=a1>1</u><u class=t0>0</u><u class=c2>2</u><em class=x1>小</em><em class=x3>小</em><em class=x5>小</em><em class=y0>奇</em><em class=y2>奇</em><em class=y5>偶</em></div>
<div class=r><i>065</i><i class=n>903</i><b class=d0>0</b><b class=d3>3</b><b class=d9>9</b><s>组六</s><u class=a0>0</u><u class=t0>0</u><u class=c0>0</u><em class=x0>大</em><em class=x3>小</em><em class=x5>小</em><em class=y0>奇</em><em class=y3>偶</em><em class=y4>奇</em></div>
<div class=r><i>066</i><i class=n>803</i><b class=d0>0</b><b class=d3>3</b><b class=d8>8</b><s>组六</s><u class=a2>2</u><u class=t0>0</u><u class=c0>0</u><em class=x0>大</em><em class=x3>小</em><em class=x5>小</em><em class=y1>偶</em><em class=y3>偶</em><em class=y4>奇</em></div>
<div class=r><i>067</i><i class=n>549</i><b class=d4>4</b><b class=d5>5</b><b class=d9>9</b><s>组六</s><u class=a2>2</u><u class=t1>1</u><u class=c0>0</u><em class=x0>大</em><em class=x3>小</em><em class=x4>大</em><em class=y0>奇</em><em class=y3>偶</em><em class=y4>奇</em></div>
<div class=r><i>068</i><i class=n>239</i><b class=d2>2</b><b class=d3>3</b><b class=d9>9</b><s>组六</s><u class=a2>2</u><u class=t0>0</u><u class=c0>0</u><em class=x1>小</em><em class=x3>小</em><em class=x4>大</em><em class=y1>偶</em><em class=y2>奇</em><em class=y4>奇</em></div>
<div class=r><i>069</i><i class="n w">411</i><b class=d1>1<sup>2</sup></b><b class=d4>4</b><s class=z>组三</s><u class=a1>1</u><u class=t1>1</u><u class=c1>1</u><em class=x1>小</em><em class=x3>小</em><em class=x5>小</em><em class=y1>偶</em><em class=y2>奇</em><em class=y4>奇</em></div>
<div class=r><i class=q>24070</i><i class=n>891</i><b class=d1>1</b><b class=d8>8</b><b class=d9>9</b><s>组六</s><u class=a2>2</u><u class=t0>0</u><u class=c1>1</u><em class=x0>大</em><em class=x2>大</em><em class=x5>小</em><em class=y1>偶</em><em class=y2>奇</em><em class=y4>奇</em></div>
<div class=r><i>071</i><i class=n>258</i><b class=d2>2</b><b class=d5>5</b><b class=d8>8</b><s>组六</s><u class=a2>2</u><u class=t2>2</u><u class=c2>2</u><em class=x1>小</em><em class=x2>大</em><em class=x4>大</em><em class=y1>偶</em><em class=y2>奇</em><em class=y5>偶</em></div>
<div class=r><i>072</i><i class=n>341</i><b class=d1>1</b><b class=d3>3</b><b class=d4>4</b><s>组六</s><u class=a0>0</u><u class=t1>1</u><u class=c1>1</u><em class=x1>小</em><em class=x3>小</em><em class=x5>小</em><em class=y0>奇</em><em class=y3>偶</em><em class=y4>奇</em></div>
<div class=r><i>073</i><i class=n>590</i><b class=d0>0</b><b class=d5>5</b><b class=d9>9</b><s>组六</s><u class=a2>2</u><u class=t0>0</u><u class=c0>0</u><em class=x0>大</em><em class=x2>大</em><em class=x5>小</em><em class=y0>奇</em><em class=y2>奇</em><em class=y5>偶</em></div>
<div class=r><i>074</i><i class=n>629</i><b class=d2>2</b><b class=d6>6</b><b class=d9>9</b><s>组六</s><u class=a0>0</u><u class=t2>2</u><u class=c0>0</u><em class=x0>大</em><em class=x3>小</em><em class=x4>大</em><em class=y1>偶</em><em class=y3>偶</em><em class=y4>奇</em></div>
<div class=r><i>075</i><i class=n>285</i><b class=d2>2</b><b class=d5>5</b><b class=d8>8</b><s>组六</s><u class=a2>2</u><u class=t2>2</u><u class=c2>2</u><em class=x1>小</em><em class=x2>大</em><em class=x4>大</em><em class=y1>偶</em><em class=y3>偶</em><em class=y4>奇</em></div>
<div class=r><i>076</i><i class=n>968</i><b class=d6>6</b><b class=d8>8</b><b class=d9>9</b><s>组六</s><u class=a0>0</u><u class=t0>0</u><u class=c2>2</u><em class=x0>大</em><em class=x2>大</em><em class=x4>大</em><em class=y0>奇</em><em class=y3>偶</em><em class=y5>偶</em></div>
<div class=r><i>077</i><i class="n w">626</i><b class=d2>2</b><b class=d6>6<sup>2</sup></b><s class=z>组三</s><u class=a0>0</u><u class=t2>2</u><u class=c0>0</u><em class=x0>大</em><em class=x3>小</em><em class=x4>大</em><em class=y1>偶</em><em class=y3>偶</em><em class=y5>偶</em></div>
<div class=r><i>078</i><i class=n>126</i><b class=d1>1</b><b class=d2>2</b><b class=d6>6</b><s>组六</s><u class=a1>1</u><u class=t2>2</u><u class=c0>0</u><em class=x1>小</em><em class=x3>小</em><em class=x4>大</em><em class=y0>奇</em><em class=y3>偶</em><em class=y5>偶</em></div>
<div class=r><i>079</i><i class="n w">889</i><b class=d8>8<sup>2</sup></b><b class=d9>9</b><s class=z>组三</s><u class=a2>2</u><u class=t2>2</u><u class=c0>0</u><em class=x0>大</em><em class=x2>大</em><em class=x4>大</em><em class=y1>偶</em><em class=y3>偶</em><em class=y4>奇</em></div>
<div class=r><i>080</i><i class=n>012</i><b class=d0>0</b><b class=d1>1</b><b class=d2>2</b><s>组六</s><u class=a0>0</u><u class=t1>1</u><u class=c2>2</u><em class=x1>小</em><em class=x3>小</em><em class=x5>小</em><em class=y1>偶</em><em class=y2>奇</em><em class=y5>偶</em></div>
<div class=r><i>081</i><i class=n>928</i><b class=d2>2</b><b class=d8>8</b><b class=d9>9</b><s>组六</s><u class=a0>0</u><u class=t2>2</u><u class=c2>2</u><em class=x0>大</em><em class=x3>小</em><em class=x4>大</em><em class=y0>奇</em><em class=y3>偶</em><em class=y5>偶</em></div>
<div class=r><i>082</i><i class=n>571</i><b class=d1>1</b><b class=d5>5</b><b class=d7>7</b><s>组六</s><u class=a2>2</u><u class=t1>1</u><u class=c1>1</u><em class=x0>大</em><em class=x2>大</em><em class=x5>小</em><em class=y0>奇</em><em class=y2>奇</em><em class=y4>奇</em></div>
<div class=r><i>083</i><i class="n w">232</i><b class=d2>2<sup>2</sup></b><b class=d3>3</b><s class=z>组三</s><u class=a2>2</u><u class=t0>0</u><u class=c2>2</u><em class=x1>小</em><em class=x3>小</em><em class=x5>小</em><em class=y1>偶</em><em class=y2>奇</em><em class=y5>偶</em></div>
<div class=r><i>084</i><i class=n>549</i><b class=d4>4</b><b class=d5>5</b><b class=d9>9</b><s>组六</s><u class=a2>2</u><u class=t1>1</u><u class=c0>0</u><em class=x0>大</em><em class=x3>小</em><em class=x4>大</em><em class=y0>奇</em><em class=y3>偶</em><em class=y4>奇</em></div>
<div class=r><i>085</i><i class=n>493</i><b class=d3>3</b><b class=d4>4</b><b class=d9>9</b><s>组六</s><u class=a1>1</u><u class=t0>0</u><u class=c0>0</u><em class=x1>小</em><em class=x2>大</em><em class=x5>小</em><em class=y1>偶</em><em class=y2>奇</em><em class=y4>奇</em></div>
<div class=r><i>086</i><i class=n>278</i><b class=d2>2</b><b class=d7>7</b><b class=d8>8</b><s>组六</s><u class=a2>2</u><u class=t1>1</u><u class=c2>2</u><em class=x1>小</em><em class=x2>大</em><em class=x4>大</em><em class=y1>偶</em><em class=y2>奇</em><em class=y5>偶</em></div>
</div>

<div class="f">天天开奖&nbsp;&nbsp;&nbsp;&nbsp;&nbsp;兴赢走势图</div>

<script>
(function(){
var rows=document.querySelectorAll('#rows .r'),svg=document.getElementById('ln'),ns='http://www.w3.org/2000/svg';
var base={a:524.5,t:617.5,c:710.5},col={a:'#d77a2a',t:'#2e7f92',c:'#d77a2a'};
['a','t','c'].forEach(function(g){
 var pts=[];
 for(var i=0;i<rows.length;i++){
  var u=rows[i].querySelector('u.'+g+'0,u.'+g+'1,u.'+g+'2');
  if(!u)continue;
  var m=+u.className.charAt(1);
  pts.push((base[g]+31*m)+','+(199+37.5*i+18.75));
 }
 var p=document.createElementNS(ns,'polyline');
 p.setAttribute('points',pts.join(' '));
 p.setAttribute('fill','none');p.setAttribute('stroke',col[g]);p.setAttribute('stroke-width','1.6');
 svg.appendChild(p);
});
})();
</script>
</body></html>
